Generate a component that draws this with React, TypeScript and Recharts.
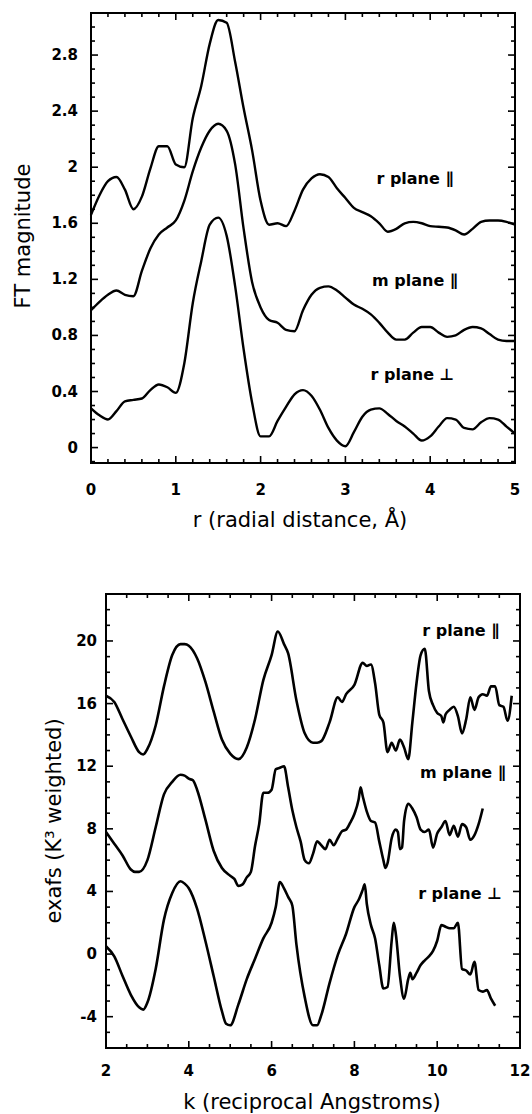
import React from "react";
import {
  LineChart,
  Line,
  XAxis,
  YAxis,
  ReferenceDot,
  Label,
} from "recharts";

// ---- FT panel (top) ----
const rValues = [
  0, 0.1, 0.2, 0.3, 0.4, 0.5, 0.6, 0.7, 0.8, 0.9,
  1.0, 1.1, 1.2, 1.3, 1.4, 1.5, 1.6, 1.7, 1.8, 1.9,
  2.0, 2.1, 2.2, 2.3, 2.4, 2.5, 2.6, 2.7, 2.8, 2.9,
  3.0, 3.1, 3.2, 3.3, 3.4, 3.5, 3.6, 3.7, 3.8, 3.9,
  4.0, 4.1, 4.2, 4.3, 4.4, 4.5, 4.6, 4.7, 4.8, 4.9,
  5.0,
];

const ftRParallel = [
  1.66, 1.8, 1.9, 1.93, 1.84, 1.7, 1.79, 1.99, 2.15, 2.15,
  2.02, 2.0, 2.35, 2.58, 2.88, 3.05, 3.03, 2.75, 2.42, 2.12,
  1.76, 1.59, 1.6, 1.58, 1.69, 1.84, 1.92, 1.95, 1.93, 1.85,
  1.78, 1.71, 1.68, 1.65, 1.6, 1.54, 1.56, 1.6, 1.61, 1.6,
  1.58, 1.575, 1.57, 1.55, 1.52, 1.56, 1.61, 1.62, 1.62, 1.61,
  1.59,
];

const ftMParallel = [
  0.98, 1.04, 1.09, 1.12, 1.09, 1.08, 1.26, 1.42, 1.52, 1.57,
  1.62, 1.76, 1.97, 2.14, 2.26, 2.31, 2.26, 2.02, 1.56, 1.18,
  1.0, 0.91, 0.89, 0.84, 0.83, 0.98, 1.09, 1.14, 1.15, 1.12,
  1.07, 1.02, 0.99, 0.95, 0.89, 0.82, 0.77, 0.77, 0.82, 0.86,
  0.86, 0.82, 0.79, 0.8, 0.84, 0.86, 0.85, 0.81, 0.77, 0.76,
  0.76,
];

const ftRPerp = [
  0.28, 0.23, 0.2, 0.26, 0.33, 0.34, 0.35, 0.41, 0.45, 0.43,
  0.39, 0.6, 1.03, 1.33, 1.59, 1.64, 1.51, 1.15, 0.7, 0.32,
  0.08, 0.08, 0.19, 0.29, 0.38, 0.41, 0.37, 0.27, 0.14, 0.05,
  0.01, 0.11, 0.22, 0.27, 0.28, 0.24, 0.19, 0.15, 0.1, 0.05,
  0.08, 0.15, 0.21, 0.2, 0.14, 0.13, 0.18, 0.21, 0.2, 0.15,
  0.1,
];

const ftXLabels = [0, 1, 2, 3, 4, 5];
const ftYLabels = [0, 0.4, 0.8, 1.2, 1.6, 2, 2.4, 2.8];

// ---- EXAFS panel (bottom), [k, chi*k^3] ----
const exRParallel: [number, number][] = [
  [2.0, 16.5], [2.2, 16.1], [2.4, 15.0], [2.6, 13.9], [2.8, 12.9], [2.9, 12.75],
  [3.0, 13.1], [3.2, 14.6], [3.4, 17.1], [3.6, 19.1], [3.8, 19.8], [3.9, 19.8],
  [4.0, 19.7], [4.2, 18.9], [4.4, 17.4], [4.6, 15.5], [4.8, 13.7], [5.0, 12.8],
  [5.2, 12.45], [5.4, 13.2], [5.6, 15.0], [5.8, 17.5], [6.0, 19.1], [6.15, 20.6],
  [6.3, 19.8], [6.4, 19.2], [6.6, 16.2], [6.8, 14.1], [7.0, 13.5], [7.1, 13.5],
  [7.2, 13.6], [7.4, 14.8], [7.6, 16.4], [7.7, 16.1], [7.8, 16.6], [8.0, 17.2],
  [8.2, 18.6], [8.3, 18.4], [8.4, 18.5], [8.5, 17.3], [8.6, 15.3], [8.7, 14.8],
  [8.8, 12.9], [8.9, 13.5], [9.0, 13.0], [9.1, 13.7], [9.2, 13.2], [9.3, 12.45],
  [9.4, 14.8], [9.5, 17.3], [9.6, 19.1], [9.7, 19.5], [9.8, 16.8], [9.9, 15.9],
  [10.0, 15.4], [10.1, 15.2], [10.15, 14.8], [10.2, 15.3], [10.3, 15.6], [10.4, 15.8],
  [10.5, 15.2], [10.6, 14.1], [10.7, 15.0], [10.8, 16.4], [10.9, 15.6], [11.0, 16.4],
  [11.1, 16.6], [11.2, 16.5], [11.3, 17.1], [11.4, 17.1], [11.5, 15.9], [11.6, 15.8],
  [11.7, 14.9], [11.8, 16.5],
];

const exMParallel: [number, number][] = [
  [2.0, 7.8], [2.2, 7.05], [2.4, 6.3], [2.6, 5.4], [2.7, 5.25], [2.8, 5.25],
  [3.0, 6.0], [3.2, 8.1], [3.4, 10.2], [3.6, 11.0], [3.8, 11.45], [3.9, 11.4],
  [4.0, 11.2], [4.1, 11.1], [4.2, 10.5], [4.4, 8.6], [4.6, 6.6], [4.8, 5.5],
  [5.0, 5.0], [5.1, 4.8], [5.2, 4.35], [5.3, 4.45], [5.4, 4.9], [5.5, 5.25],
  [5.6, 6.9], [5.7, 8.3], [5.8, 10.3], [5.9, 10.3], [6.0, 10.5], [6.1, 11.8],
  [6.2, 11.9], [6.3, 12.0], [6.4, 10.65], [6.5, 9.2], [6.6, 8.1], [6.7, 7.2],
  [6.8, 6.0], [6.9, 5.8], [7.0, 6.4], [7.1, 7.2], [7.2, 6.95], [7.3, 6.7],
  [7.4, 7.3], [7.5, 6.95], [7.6, 7.4], [7.7, 7.85], [7.8, 7.95], [7.9, 8.4],
  [8.0, 8.95], [8.1, 9.85], [8.15, 10.65], [8.2, 10.1], [8.3, 9.1], [8.4, 8.5],
  [8.5, 8.4], [8.6, 7.2], [8.7, 6.0], [8.75, 5.5], [8.8, 5.8], [8.9, 7.4],
  [9.0, 7.95], [9.05, 7.8], [9.1, 6.7], [9.15, 6.8], [9.2, 8.5], [9.3, 9.6],
  [9.4, 9.3], [9.5, 8.75], [9.6, 7.95], [9.7, 7.8], [9.8, 7.95], [9.9, 6.8],
  [10.0, 7.7], [10.1, 8.1], [10.2, 8.5], [10.3, 7.6], [10.4, 8.2], [10.5, 7.5],
  [10.6, 8.3], [10.7, 8.1], [10.8, 7.3], [10.9, 7.6], [11.0, 8.3], [11.1, 9.3],
];

const exRPerp: [number, number][] = [
  [2.0, 0.5], [2.2, -0.15], [2.4, -1.4], [2.6, -2.6], [2.8, -3.4], [2.9, -3.55],
  [3.0, -3.1], [3.2, -0.95], [3.4, 2.2], [3.6, 3.9], [3.8, 4.65], [3.9, 4.5],
  [4.0, 4.2], [4.2, 2.9], [4.4, 0.85], [4.6, -1.4], [4.8, -3.65], [4.9, -4.45],
  [5.0, -4.55], [5.2, -3.2], [5.4, -1.6], [5.6, -0.3], [5.8, 1.0], [6.0, 2.0],
  [6.1, 3.0], [6.2, 4.6], [6.3, 4.2], [6.4, 3.65], [6.5, 3.1], [6.6, 0.6],
  [6.8, -2.75], [7.0, -4.55], [7.1, -4.55], [7.2, -3.9], [7.4, -1.85], [7.6, -0.05],
  [7.8, 1.3], [8.0, 3.0], [8.1, 3.45], [8.2, 4.1], [8.25, 4.45], [8.3, 3.2],
  [8.4, 1.85], [8.5, 1.0], [8.6, -0.7], [8.7, -2.2], [8.8, -2.1], [8.9, 0.85],
  [8.95, 2.0], [9.0, 1.3], [9.1, -1.4], [9.2, -2.85], [9.3, -1.6], [9.35, -1.2],
  [9.4, -1.6], [9.5, -1.2], [9.6, -0.7], [9.7, -0.4], [9.8, -0.15], [9.9, 0.2],
  [10.0, 0.85], [10.1, 1.85], [10.2, 1.75], [10.3, 1.65], [10.4, 1.65], [10.5, 2.0],
  [10.6, -0.95], [10.7, -1.05], [10.8, -1.3], [10.9, -0.5], [11.0, -2.3], [11.1, -2.4],
  [11.2, -2.3], [11.3, -2.85], [11.4, -3.3],
];

const exXLabels = [2, 4, 6, 8, 10, 12];
const exYLabels = [-4, 0, 4, 8, 12, 16, 20];

// ---------------------------------------------------------------

const FONT = "DejaVu Sans";
const INK = "#000";

type Geo = { left: number; right: number; top: number; bottom: number; yGap: number; xDrop: number };

const ftGeo: Geo = { left: 91, right: 515, top: 13, bottom: 463, yGap: 13, xDrop: 27 };
const exGeo: Geo = { left: 106, right: 520, top: 34, bottom: 488, yGap: 9, xDrop: 23 };

const FT_X: [number, number] = [0, 5];
const FT_Y: [number, number] = [-0.11, 3.1];
const EX_X: [number, number] = [2, 12];
const EX_Y: [number, number] = [-6, 23];

const steps = (from: number, to: number, step: number) =>
  Array.from({ length: Math.round((to - from) / step) + 1 }, (_, i) =>
    Number((from + i * step).toFixed(3))
  );

const ftYTicks = steps(-0.1, 3.1, 0.1);
const ftXTicks = steps(0, 5, 0.2);
const exYTicks = steps(-6, 23, 1);
const exXTicks = steps(2, 12, 0.5);

const isMajor = (v: number, majors: number[]) =>
  majors.some((m) => Math.abs(m - v) < 1e-6);

const labelStyle = {
  fontFamily: FONT,
  fontSize: 15,
  fontWeight: "bold" as const,
  fill: INK,
};

function drawYTick(geo: Geo, majors: number[], props: any) {
  const { y, payload } = props;
  const v = payload.value;
  if (!isMajor(v, majors)) return <g />;
  return (
    <text x={geo.left - geo.yGap} y={y + 5} textAnchor="end" {...labelStyle}>
      {String(v)}
    </text>
  );
}

function drawXTick(geo: Geo, majors: number[], props: any) {
  const { x, payload } = props;
  const v = payload.value;
  if (!isMajor(v, majors)) return <g />;
  return (
    <text x={x} y={geo.bottom + geo.xDrop + 5} textAnchor="middle" {...labelStyle}>
      {String(v)}
    </text>
  );
}

const ftYTick = (p: any) => drawYTick(ftGeo, ftYLabels, p);
const ftXTick = (p: any) => drawXTick(ftGeo, ftXLabels, p);
const exYTick = (p: any) => drawYTick(exGeo, exYLabels, p);
const exXTick = (p: any) => drawXTick(exGeo, exXLabels, p);

function title(text: string, x: number, y: number, rotate?: boolean) {
  return () => (
    <text
      x={x}
      y={y + 7}
      textAnchor="middle"
      transform={rotate ? `rotate(-90 ${x} ${y})` : undefined}
      fontFamily={FONT}
      fontSize={21}
      fill={INK}
    >
      {text}
    </text>
  );
}

const note = (value: string) => ({
  value,
  position: "center" as const,
  fontFamily: FONT,
  fontSize: 16,
  fontWeight: "bold",
  fill: INK,
});

const ftRows = rValues.map((r, i) => ({
  r,
  rPar: ftRParallel[i],
  mPar: ftMParallel[i],
  rPerp: ftRPerp[i],
}));

const toRows = (pairs: [number, number][]) => pairs.map(([k, v]) => ({ k, v }));
const exRParRows = toRows(exRParallel);
const exMParRows = toRows(exMParallel);
const exRPerpRows = toRows(exRPerp);

// box + inward ticks on all four sides, same linear mapping as the plot area
function AxisBox({
  geo, offsetY, xDom, yDom, xTicks, yTicks, xMajor, yMajor,
}: {
  geo: Geo; offsetY: number; xDom: [number, number]; yDom: [number, number];
  xTicks: number[]; yTicks: number[]; xMajor: number[]; yMajor: number[];
}) {
  const sx = (v: number) => geo.left + ((v - xDom[0]) / (xDom[1] - xDom[0])) * (geo.right - geo.left);
  const sy = (v: number) => geo.bottom - ((v - yDom[0]) / (yDom[1] - yDom[0])) * (geo.bottom - geo.top);
  return (
    <g transform={`translate(0 ${offsetY})`} stroke={INK} fill="none">
      <rect x={geo.left} y={geo.top} width={geo.right - geo.left} height={geo.bottom - geo.top} strokeWidth={2} />
      {xTicks.map((v) => {
        const x = sx(v);
        const len = isMajor(v, xMajor) ? 7 : 4;
        return (
          <g key={`x${v}`} strokeWidth={1.6}>
            <line x1={x} x2={x} y1={geo.bottom} y2={geo.bottom - len} />
            <line x1={x} x2={x} y1={geo.top} y2={geo.top + len} />
          </g>
        );
      })}
      {yTicks.map((v) => {
        const y = sy(v);
        const len = isMajor(v, yMajor) ? 7 : 4;
        return (
          <g key={`y${v}`} strokeWidth={1.6}>
            <line x1={geo.left} x2={geo.left + len} y1={y} y2={y} />
            <line x1={geo.right - len} x2={geo.right} y1={y} y2={y} />
          </g>
        );
      })}
    </g>
  );
}

function FTChart() {
  return (
    <LineChart
      width={532}
      height={560}
      data={ftRows}
      margin={{ top: ftGeo.top, right: 532 - ftGeo.right, bottom: 0, left: 0 }}
    >
      <XAxis
        dataKey="r"
        type="number"
        domain={FT_X}
        ticks={ftXTicks}
        interval={0}
        height={560 - ftGeo.bottom}
        axisLine={false}
        tickLine={false}
        tickSize={0}
        tick={ftXTick}
      >
        <Label content={title("r (radial distance, Å)", 300, 520)} />
        <Label content={title("FT magnitude", 23, 236, true)} />
      </XAxis>
      <YAxis
        type="number"
        domain={FT_Y}
        ticks={ftYTicks}
        interval={0}
        width={ftGeo.left}
        axisLine={false}
        tickLine={false}
        tickSize={0}
        tick={ftYTick}
      />
      <Line dataKey="rPar" type="monotone" stroke={INK} strokeWidth={2.4} dot={false} isAnimationActive={false} />
      <Line dataKey="mPar" type="monotone" stroke={INK} strokeWidth={2.4} dot={false} isAnimationActive={false} />
      <Line dataKey="rPerp" type="monotone" stroke={INK} strokeWidth={2.4} dot={false} isAnimationActive={false} />
      <ReferenceDot x={3.82} y={1.92} r={0} fill="none" stroke="none" label={note("r plane ∥")} />
      <ReferenceDot x={3.82} y={1.19} r={0} fill="none" stroke="none" label={note("m plane ∥")} />
      <ReferenceDot x={3.79} y={0.52} r={0} fill="none" stroke="none" label={note("r plane  ⊥")} />
    </LineChart>
  );
}

function ExafsChart() {
  return (
    <LineChart
      width={532}
      height={554}
      margin={{ top: exGeo.top, right: 532 - exGeo.right, bottom: 0, left: 0 }}
    >
      <XAxis
        dataKey="k"
        type="number"
        domain={EX_X}
        ticks={exXTicks}
        interval={0}
        height={554 - exGeo.bottom}
        axisLine={false}
        tickLine={false}
        tickSize={0}
        tick={exXTick}
      >
        <Label content={title("k (reciprocal Angstroms)", 312, 542)} />
        <Label content={title("exafs (K³ weighted)", 54, 261, true)} />
      </XAxis>
      <YAxis
        type="number"
        domain={EX_Y}
        ticks={exYTicks}
        interval={0}
        width={exGeo.left}
        axisLine={false}
        tickLine={false}
        tickSize={0}
        tick={exYTick}
      />
      <Line data={exRParRows} dataKey="v" type="monotone" stroke={INK} strokeWidth={2.6} dot={false} isAnimationActive={false} />
      <Line data={exMParRows} dataKey="v" type="monotone" stroke={INK} strokeWidth={2.6} dot={false} isAnimationActive={false} />
      <Line data={exRPerpRows} dataKey="v" type="monotone" stroke={INK} strokeWidth={2.6} dot={false} isAnimationActive={false} />
      <ReferenceDot x={10.57} y={20.7} r={0} fill="none" stroke="none" label={note("r plane ∥")} />
      <ReferenceDot x={10.62} y={11.6} r={0} fill="none" stroke="none" label={note("m plane ∥")} />
      <ReferenceDot x={10.55} y={3.87} r={0} fill="none" stroke="none" label={note("r plane ⊥")} />
    </LineChart>
  );
}

export default function App() {
  return (
    <div
      style={{
        position: "absolute",
        top: 0,
        left: 0,
        width: 532,
        height: 1114,
        background: "#fff",
      }}
    >
      <FTChart />
      <ExafsChart />
      <svg
        width={532}
        height={1114}
        style={{ position: "absolute", top: 0, left: 0, zIndex: 5, pointerEvents: "none" }}
      >
        <AxisBox geo={ftGeo} offsetY={0} xDom={FT_X} yDom={FT_Y}
          xTicks={ftXTicks} yTicks={ftYTicks} xMajor={ftXLabels} yMajor={ftYLabels} />
        <AxisBox geo={exGeo} offsetY={560} xDom={EX_X} yDom={EX_Y}
          xTicks={exXTicks} yTicks={exYTicks} xMajor={exXLabels} yMajor={exYLabels} />
      </svg>
    </div>
  );
}
